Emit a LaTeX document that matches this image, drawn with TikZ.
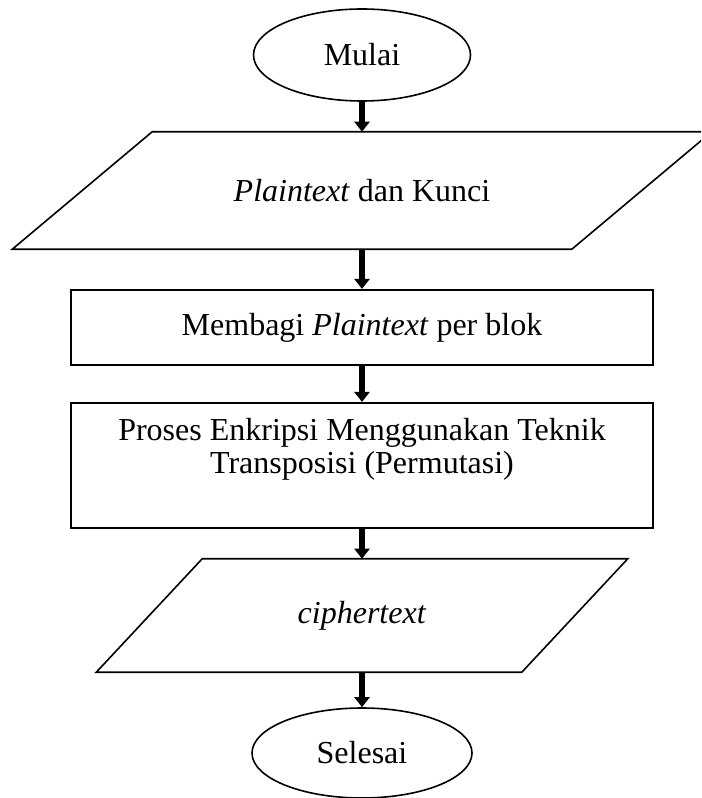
\documentclass[tikz,border=0pt]{standalone}
\usepackage{fontspec}
\setmainfont{Liberation Serif}
\usetikzlibrary{shapes.geometric,arrows.meta,calc}
\begin{document}
\begin{tikzpicture}[x=0.75pt,y=-0.75pt,
  txt/.style={font=\fontsize{24}{25}\selectfont},
  term/.style={ellipse,draw,line width=1.2pt,inner sep=0pt,txt},
  box/.style={rectangle,draw,line width=1.6pt,inner sep=0pt,txt,align=center},
  io/.style={rectangle,inner sep=0pt,txt},
  par/.style={line width=1.2pt,line join=miter},
  flow/.style={line width=4.5pt,-{Triangle[width=11.25pt,length=7.5pt]}}]
\clip (0,0) rectangle (701,798);
\node[term,minimum width=162.75pt,minimum height=69pt] (m) at (362,55) {Mulai};
\node[io,minimum width=419.25pt,minimum height=87.75pt] (p1) at (362,190.5) {\textit{Plaintext} dan Kunci};
\draw[par] ($(p1.north west)+(70,0)$) -- ($(p1.north east)+(70,0)$) -- ($(p1.south east)-(70,0)$) -- ($(p1.south west)-(70,0)$) -- cycle;
\node[box,minimum width=436.5pt,minimum height=56.25pt] (r1) at (362,327.5) {Membagi \textit{Plaintext} per blok};
\node[box,minimum width=436.5pt,minimum height=93.75pt] (r2) at (362,465.5) {};
\node[txt,align=center,inner sep=0pt] (r2t) at (362,449) {Proses Enkripsi Menggunakan Teknik\\Transposisi (Permutasi)};
\node[io,minimum width=318.75pt,minimum height=84.75pt] (p2) at (362,615.5) {\textit{ciphertext}};
\draw[par] ($(p2.north west)+(53,0)$) -- ($(p2.north east)+(53,0)$) -- ($(p2.south east)-(53,0)$) -- ($(p2.south west)-(53,0)$) -- cycle;
\node[term,minimum width=165pt,minimum height=67.5pt] (s) at (362,753) {Selesai};
\draw[flow] (m.south) -- (p1.north);
\draw[flow] (p1.south) -- (r1.north);
\draw[flow] (r1.south) -- (r2.north);
\draw[flow] (r2.south) -- (p2.north);
\draw[flow] (p2.south) -- (s.north);
\end{tikzpicture}
\end{document}
